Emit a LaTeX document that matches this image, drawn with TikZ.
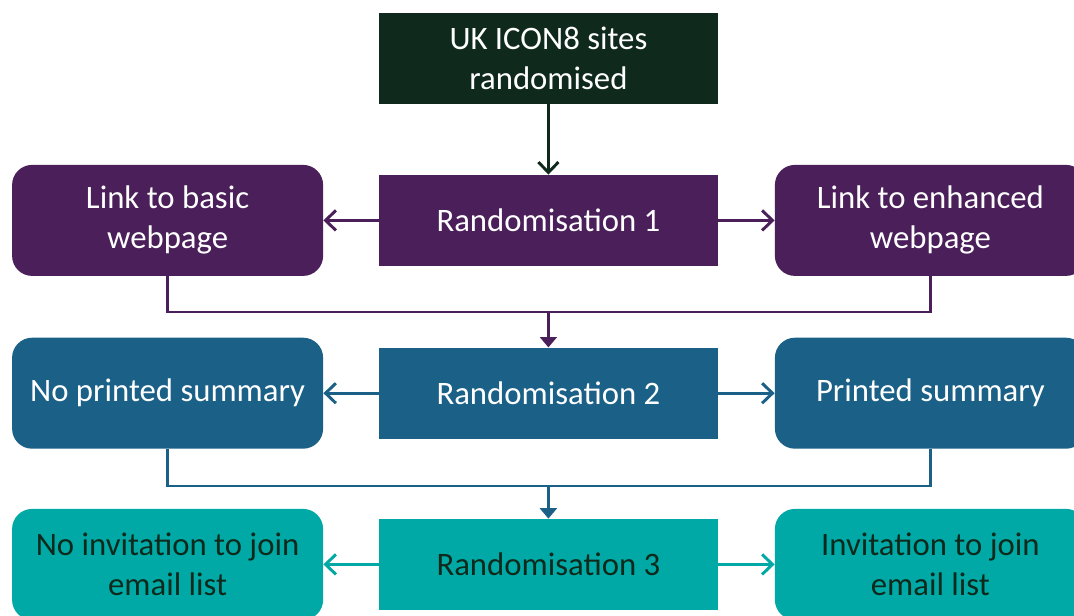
\documentclass[tikz,border=0pt]{standalone}
\usepackage{fontspec}
\setmainfont{Carlito}
\usepackage{xcolor}
\usetikzlibrary{positioning, arrows.meta, calc}
\definecolor{icongreen}{HTML}{0F2A1C}
\definecolor{iconpurple}{HTML}{4A1F5A}
\definecolor{iconblue}{HTML}{1A6087}
\definecolor{iconteal}{HTML}{00A9A5}
\tikzset{
    randbox/.style={rectangle, minimum width=8.475cm, minimum height=2.275cm, inner sep=0pt, align=center, font=\fontsize{23.3}{28.5}\selectfont},
    armbox/.style={rectangle, rounded corners=0.5cm, minimum width=7.775cm, minimum height=2.775cm, inner sep=0pt, align=center, font=\fontsize{23.3}{28.5}\selectfont},
    link/.style={draw, line width=2.1pt, -{Straight Barb[length=2.6mm, width=5mm, line width=2.1pt]}},
    merge/.style={draw, line width=2.1pt},
    mergearrow/.style={draw, line width=2.1pt, -{Triangle[length=2.6mm, width=4.2mm]}}
}
\begin{document}
\begin{tikzpicture}
\useasboundingbox (0,0) rectangle (26.85,-15.375);

% Top box
\node[randbox, fill=icongreen, text=white] (sites) at (13.71,-1.46) {UK ICON8 sites\\randomised};

% Randomisation 1
\node[randbox, fill=iconpurple, text=white] (rand1) at (13.71,-5.51) {Randomisation 1};
\node[armbox, fill=iconpurple, text=white] (basic) at (4.19,-5.51) {Link to basic\\webpage};
\node[armbox, fill=iconpurple, text=white] (enhanced) at (23.26,-5.51) {Link to enhanced\\webpage};
\draw[link, icongreen] (sites) -- (rand1);
\draw[link, iconpurple] (rand1) -- (basic);
\draw[link, iconpurple] (rand1) -- (enhanced);

% Randomisation 2
\node[randbox, fill=iconblue, text=white] (rand2) at (13.71,-9.83) {Randomisation 2};
\node[armbox, fill=iconblue, text=white] (noprint) at (4.19,-9.83) {No printed summary};
\node[armbox, fill=iconblue, text=white] (print) at (23.26,-9.83) {Printed summary};
\coordinate (join1) at (13.71,-7.8);
\draw[merge, iconpurple] (basic.south) |- (join1) -| (enhanced.south);
\draw[mergearrow, iconpurple] (join1) -- (rand2);
\draw[link, iconblue] (rand2) -- (noprint);
\draw[link, iconblue] (rand2) -- (print);

% Randomisation 3
\node[randbox, fill=iconteal, text=icongreen] (rand3) at (13.71,-14.11) {Randomisation 3};
\node[armbox, fill=iconteal, text=icongreen] (noinvite) at (4.19,-14.11) {No invitation to join\\email list};
\node[armbox, fill=iconteal, text=icongreen] (invite) at (23.26,-14.11) {Invitation to join\\email list};
\coordinate (join2) at (13.71,-12.15);
\draw[merge, iconblue] (noprint.south) |- (join2) -| (print.south);
\draw[mergearrow, iconblue] (join2) -- (rand3);
\draw[link, iconteal] (rand3) -- (noinvite);
\draw[link, iconteal] (rand3) -- (invite);
\end{tikzpicture}
\end{document}
